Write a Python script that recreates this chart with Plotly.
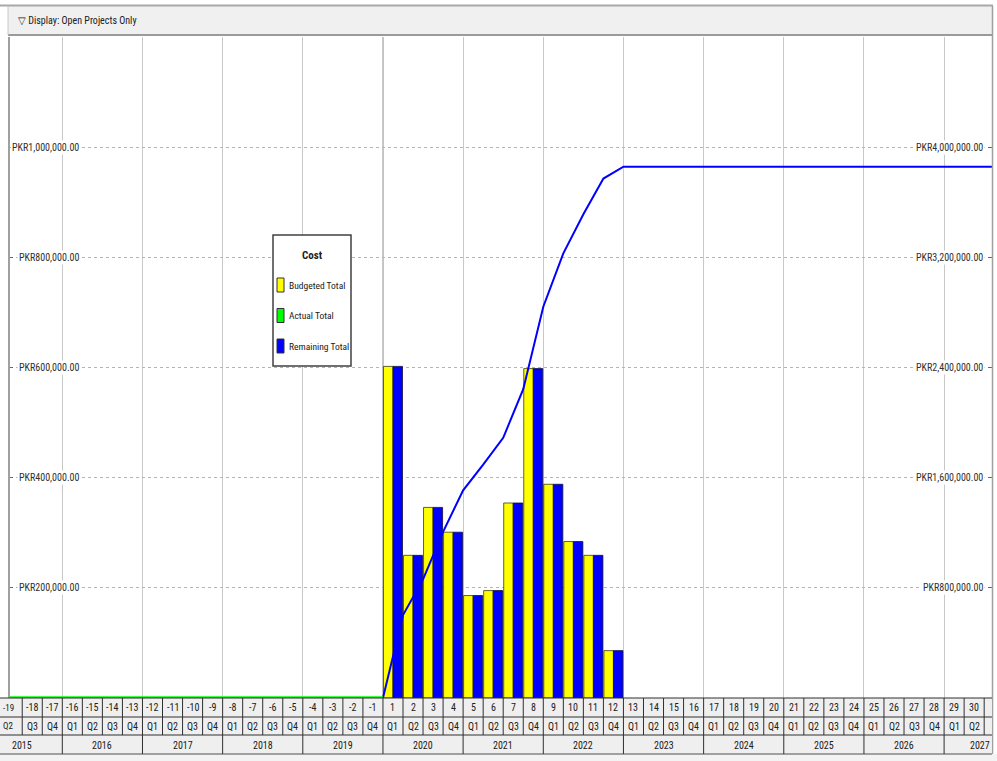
import plotly.graph_objects as go

# ---------------- data ----------------
quarter_nums = list(range(-19, 0)) + list(range(1, 32))          # column labels
quarter_names = ["Q2", "Q3", "Q4"] + ["Q1", "Q2", "Q3", "Q4"] * 11 + ["Q1", "Q2", "Q3"]
years = list(range(2015, 2028))

budgeted_total = [602000, 259000, 346000, 301000, 186000, 195000,
                  354000, 598000, 388000, 284000, 259000, 86000]
remaining_total = [602000, 259000, 346000, 301000, 186000, 195000,
                   354000, 598000, 388000, 284000, 259000, 86000]
remaining_future = [0] * 19          # quarters 13..31 (nothing planned)
actual_total = [0] * 19              # quarters -19..-1

left_ticks = [200000, 400000, 600000, 800000, 1000000]
left_labels = ["PKR200,000.00", "PKR400,000.00", "PKR600,000.00", "PKR800,000.00", "PKR1,000,000.00"]
right_ticks = [800000, 1600000, 2400000, 3200000, 4000000]
right_labels = ["PKR800,000.00", "PKR1,600,000.00", "PKR2,400,000.00", "PKR3,200,000.00", "PKR4,000,000.00"]

legend_title = "Cost"
legend_names = ["Budgeted Total", "Actual Total", "Remaining Total"]
legend_colors = ["#FFFF00", "#00FF00", "#0000FF"]
header_text = "\u25bd Display: Open Projects Only"

# ---------------- helpers ----------------
FONT = "Liberation Sans Narrow, Arial Narrow, Roboto Condensed, Roboto, Liberation Sans, sans-serif"
L, R, T, B = 10, 5, 37, 63
W, H = 997, 761
PW, PH = W - L - R, H - T - B


def xp(x):
    return (x - L) / PW


def yp(y):
    return (H - B - y) / PH


def qpos(n):
    """continuous position of the start of quarter column n (2020 Q1 starts at 0)"""
    return n - 1 if n > 0 else n


# ---------------- traces ----------------
fig = go.Figure()
future_q = [q for q in quarter_nums if q > 0]
bar_x = [qpos(q) + 0.5 for q in future_q[:len(budgeted_total)]]

fig.add_trace(go.Bar(x=bar_x, y=budgeted_total, name="Budgeted Total",
                     marker=dict(color="#FFFF00", line=dict(color="#3a3a10", width=0.8)),
                     offsetgroup="a"))
fig.add_trace(go.Bar(x=bar_x, y=remaining_total, name="Remaining Total",
                     marker=dict(color="#0000FF", line=dict(color="#10103a", width=0.8)),
                     offsetgroup="b"))

# cumulative lines (right axis)
rem_all = remaining_total + remaining_future
cum = [0]
for v in rem_all:
    cum.append(cum[-1] + v)
cum_x = [0] + [qpos(q) + 1 for q in future_q]
fig.add_trace(go.Scatter(x=cum_x, y=cum, mode="lines", yaxis="y2",
                         line=dict(color="#0000FF", width=2), name="Remaining cum"))

past_q = [q for q in quarter_nums if q < 0]
act_cum = [0]
for v in actual_total:
    act_cum.append(act_cum[-1] + v)
act_x = [qpos(past_q[0])] + [qpos(q) + 1 for q in past_q]
fig.add_trace(go.Scatter(x=act_x, y=act_cum, mode="lines", yaxis="y2",
                         line=dict(color="#00FF00", width=3.5), name="Actual cum"))

# ---------------- layout ----------------
x_lo = -18.61
x_hi = 30.39
year_bounds = [qpos(q) for q, n in zip(quarter_nums, quarter_names) if n == "Q1"]

shapes = []
annotations = []

# header bar
shapes.append(dict(type="rect", xref="paper", yref="paper", x0=xp(8), x1=xp(993), y0=yp(34.5), y1=yp(6),
                   fillcolor="#f0f0f0", line=dict(width=0), layer="above"))
shapes.append(dict(type="line", xref="paper", yref="paper", x0=xp(0), x1=xp(993), y0=yp(5.5), y1=yp(5.5),
                   line=dict(color="#a8a8a8", width=2), layer="above"))
shapes.append(dict(type="line", xref="paper", yref="paper", x0=xp(8), x1=xp(993), y0=yp(35), y1=yp(35),
                   line=dict(color="#9a9a9a", width=2), layer="above"))
shapes.append(dict(type="line", xref="paper", yref="paper", x0=xp(8), x1=xp(8), y0=yp(6), y1=yp(35),
                   line=dict(color="#c8c8c8", width=1), layer="above"))
annotations.append(dict(xref="paper", yref="paper", x=xp(16), y=yp(21), text=header_text, showarrow=False,
                        xanchor="left", yanchor="middle", font=dict(family=FONT, size=10, color="#202020")))

# right strip
shapes.append(dict(type="line", xref="paper", yref="paper", x0=xp(992.5), x1=xp(992.5), y0=yp(6), y1=yp(756),
                   line=dict(color="#a0a0a0", width=1.5), layer="above"))

# data date line
shapes.append(dict(type="line", xref="x", yref="paper", x0=0, x1=0, y0=0, y1=1,
                   line=dict(color="#8a8ae6", width=1.2), layer="below"))

# bottom table
ROW = [698, 717, 735, 754]
shapes.append(dict(type="rect", xref="paper", yref="paper", x0=xp(0), x1=xp(992), y0=yp(ROW[3]), y1=yp(ROW[0]),
                   fillcolor="#efefef", line=dict(width=0), layer="above"))
shapes.append(dict(type="rect", xref="paper", yref="paper", x0=xp(0), x1=xp(997), y0=yp(761), y1=yp(ROW[3]),
                   fillcolor="#f3f3f3", line=dict(width=0), layer="above"))
for yy, col, wd in [(ROW[0], "#303030", 1.2), (ROW[1], "#303030", 1.2), (ROW[2], "#303030", 1.2),
                    (ROW[3], "#a0a0a0", 2)]:
    shapes.append(dict(type="line", xref="paper", yref="paper", x0=xp(0), x1=xp(992), y0=yp(yy), y1=yp(yy),
                       line=dict(color=col, width=wd), layer="above"))
for q in quarter_nums[1:]:
    p = qpos(q)
    if x_lo < p < x_hi:
        shapes.append(dict(type="line", xref="x", yref="paper", x0=p, x1=p, y0=yp(ROW[2]), y1=yp(ROW[0]),
                           line=dict(color="#303030", width=1), layer="above"))
for p in year_bounds:
    if x_lo < p < x_hi:
        shapes.append(dict(type="line", xref="x", yref="paper", x0=p, x1=p, y0=yp(ROW[3]), y1=yp(ROW[2]),
                           line=dict(color="#303030", width=1), layer="above"))

tfont = dict(family=FONT, size=10, color="#202020")
for q, qn in zip(quarter_nums, quarter_names):
    c = qpos(q) + 0.5
    if q == quarter_nums[0]:
        annotations.append(dict(xref="paper", yref="paper", x=xp(1), y=yp(707.5), text=str(q), showarrow=False,
                                xanchor="left", yanchor="middle", font=dict(family=FONT, size=9, color="#202020")))
        annotations.append(dict(xref="paper", yref="paper", x=xp(1), y=yp(726), text=qn, showarrow=False,
                                xanchor="left", yanchor="middle", font=dict(family=FONT, size=9, color="#202020")))
        continue
    if c > x_hi - 0.3:
        continue
    annotations.append(dict(xref="x", yref="paper", x=c, y=yp(707.5), text=str(q), showarrow=False,
                            xanchor="center", yanchor="middle", font=tfont))
    annotations.append(dict(xref="x", yref="paper", x=c, y=yp(726), text=qn, showarrow=False,
                            xanchor="center", yanchor="middle", font=tfont))
for i, yv in enumerate(years):
    c = year_bounds[0] - 4 + 4 * i + 2
    if yv == years[-1]:
        annotations.append(dict(xref="paper", yref="paper", x=xp(992), y=yp(745), text=str(yv), showarrow=False,
                                xanchor="right", yanchor="middle", font=tfont))
        continue
    annotations.append(dict(xref="x", yref="paper", x=c, y=yp(745), text=str(yv), showarrow=False,
                            xanchor="center", yanchor="middle", font=tfont))

# axis labels inside the plot
afont = dict(family=FONT, size=10, color="#303030")
for v, t in zip(left_ticks, left_labels):
    annotations.append(dict(xref="paper", yref="y", x=xp(81), y=v, text=t, showarrow=False,
                            xanchor="right", yanchor="middle", font=afont, bgcolor="white", borderpad=1))
for v, t in zip(right_ticks, right_labels):
    annotations.append(dict(xref="paper", yref="y2", x=xp(985), y=v, text=t, showarrow=False,
                            xanchor="right", yanchor="middle", font=afont, bgcolor="white", borderpad=1))

# legend box
shapes.append(dict(type="rect", xref="paper", yref="paper", x0=xp(273), x1=xp(351), y0=yp(366), y1=yp(235),
                   fillcolor="white", line=dict(color="#404040", width=1.5), layer="above"))
annotations.append(dict(xref="paper", yref="paper", x=xp(312), y=yp(255), text="<b>" + legend_title + "</b>",
                        showarrow=False, xanchor="center", yanchor="middle",
                        font=dict(family=FONT, size=11, color="#202020")))
for i, (nm, colr) in enumerate(zip(legend_names, legend_colors)):
    yc = 285 + 30.5 * i
    shapes.append(dict(type="rect", xref="paper", yref="paper", x0=xp(277), x1=xp(284), y0=yp(yc + 7),
                       y1=yp(yc - 7), fillcolor=colr, line=dict(color="#303030", width=1), layer="above"))
    annotations.append(dict(xref="paper", yref="paper", x=xp(287), y=yp(yc), text=nm, showarrow=False,
                            xanchor="left", yanchor="middle", font=dict(family=FONT, size=9.5, color="#202020")))

fig.update_layout(
    width=W, height=H, margin=dict(l=L, r=R, t=T, b=B, autoexpand=False),
    paper_bgcolor="white", plot_bgcolor="white",
    barmode="group", bargap=0.05, bargroupgap=0,
    showlegend=False,
    xaxis=dict(range=[x_lo, x_hi], tickvals=year_bounds, showticklabels=False, ticks="",
               showgrid=True, gridcolor="#c8c8c8", gridwidth=1, zeroline=False, showline=False),
    yaxis=dict(range=[0, 1200000], tickvals=left_ticks, showticklabels=False, ticks="inside", ticklen=3,
               tickcolor="#666666", showgrid=True, gridcolor="#b4b4b4", griddash="dot", gridwidth=1,
               zeroline=False, showline=True, linecolor="#a0a0a0", linewidth=2),
    yaxis2=dict(range=[0, 4800000], overlaying="y", side="right", tickvals=right_ticks, showticklabels=False,
                ticks="inside", ticklen=4, tickcolor="#666666", showgrid=False, zeroline=False,
                showline=False),
    shapes=shapes, annotations=annotations,
)

fig.write_html("out.html", config={"displayModeBar": False},
               post_script="document.body.style.margin='0px';document.body.style.overflow='hidden';")
